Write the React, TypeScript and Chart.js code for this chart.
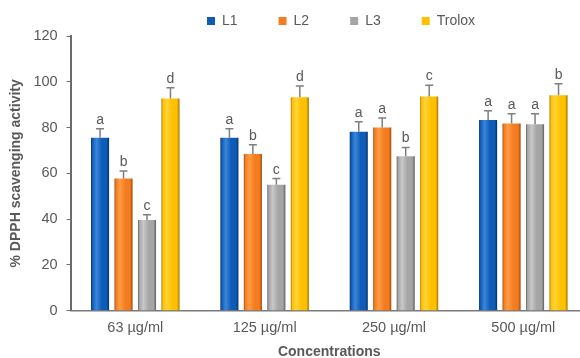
import React, { useEffect, useRef } from "react";
import { Chart, registerables } from "chart.js";

Chart.register(...registerables);

const CATEGORIES = ["63 µg/ml", "125 µg/ml", "250 µg/ml", "500 µg/ml"];
const SERIES_NAMES = ["L1", "L2", "L3", "Trolox"];
const L1 = [75.6, 75.6, 78.2, 83.3];
const L2 = [57.7, 68.4, 80.0, 81.8];
const L3 = [39.6, 55.0, 67.5, 81.4];
const TROLOX = [92.7, 93.2, 93.6, 94.1];
const L1_ERR = [3.9, 3.9, 4.3, 4.1];
const L2_ERR = [3.3, 4.1, 4.2, 4.2];
const L3_ERR = [2.3, 2.7, 3.8, 4.6];
const TROLOX_ERR = [4.7, 5.0, 4.9, 5.0];
const L1_LETTERS = ["a", "a", "a", "a"];
const L2_LETTERS = ["b", "b", "a", "a"];
const L3_LETTERS = ["c", "c", "b", "a"];
const TROLOX_LETTERS = ["d", "d", "c", "b"];
const Y_TICKS = [0, 20, 40, 60, 80, 100, 120];

const BASE = ["#0F5CB8", "#F47C20", "#A5A5A5", "#FFC000"];
const LIGHT = ["#3A86DA", "#FF9C45", "#C8C8C8", "#FFD338"];
const DARK = ["#062F63", "#9E4806", "#5E5E5E", "#A07200"];

const VALUES = [L1, L2, L3, TROLOX];
const ERRORS = [L1_ERR, L2_ERR, L3_ERR, TROLOX_ERR];
const LETTERS = [L1_LETTERS, L2_LETTERS, L3_LETTERS, TROLOX_LETTERS];

const FONT = "'Liberation Sans', Arial, Helvetica, sans-serif";
const TEXT = "#595959";

const barShading = {
  id: "barShading",
  beforeDatasetsDraw(chart: any) {
    const ctx = chart.ctx;
    chart.data.datasets.forEach((_ds: any, di: number) => {
      const meta = chart.getDatasetMeta(di);
      meta.data.forEach((el: any) => {
        const { x, width } = el.getProps(["x", "width"], true);
        const g = ctx.createLinearGradient(x - width / 2, 0, x + width / 2, 0);
        g.addColorStop(0, DARK[di]);
        g.addColorStop(0.08, BASE[di]);
        g.addColorStop(0.3, LIGHT[di]);
        g.addColorStop(0.6, BASE[di]);
        g.addColorStop(0.86, BASE[di]);
        g.addColorStop(1, DARK[di]);
        el.options = Object.assign({}, el.options, { backgroundColor: g });
      });
    });
  },
};

const errorLetters = {
  id: "errorLetters",
  afterDatasetsDraw(chart: any) {
    const ctx = chart.ctx;
    const yS = chart.scales.y;
    ctx.save();
    chart.data.datasets.forEach((ds: any, di: number) => {
      const meta = chart.getDatasetMeta(di);
      meta.data.forEach((el: any, i: number) => {
        const v = ds.data[i];
        const e = ERRORS[di][i];
        const yBar = yS.getPixelForValue(v);
        const yTop = yS.getPixelForValue(v + e);
        ctx.strokeStyle = "#7F7F7F";
        ctx.lineWidth = 1.5;
        ctx.beginPath();
        ctx.moveTo(el.x, yBar);
        ctx.lineTo(el.x, yTop);
        ctx.moveTo(el.x - 4, yTop);
        ctx.lineTo(el.x + 4, yTop);
        ctx.stroke();
        ctx.fillStyle = TEXT;
        ctx.font = `14px ${FONT}`;
        ctx.textAlign = "center";
        ctx.textBaseline = "alphabetic";
        ctx.fillText(LETTERS[di][i], el.x, yTop - 5);
      });
    });
    ctx.restore();
  },
};

const legendPlace = {
  id: "legendPlace",
  afterLayout(chart: any) {
    const lg = chart.legend;
    if (!lg) return;
    const pad = lg.options.labels.padding;
    const dx = 207 - (lg.left + pad);
    const dy = 14 - (lg.top + pad);
    lg.left += dx;
    lg.right += dx;
    lg.top += dy;
    lg.bottom = 40;
  },
};

export default function App() {
  const ref = useRef<HTMLCanvasElement>(null);
  useEffect(() => {
    if (!ref.current) return;
    const chart = new Chart(ref.current, {
      type: "bar",
      data: {
        labels: CATEGORIES,
        datasets: SERIES_NAMES.map((name, i) => ({
          label: name,
          data: VALUES[i],
          backgroundColor: BASE[i],
          borderWidth: 0,
          categoryPercentage: 0.726,
          barPercentage: 0.77,
        })),
      },
      options: {
        responsive: false,
        animation: false,
        devicePixelRatio: 1,
        layout: { padding: { left: 0, right: 2, top: 0, bottom: 0 } },
        plugins: {
          legend: {
            display: true,
            position: "top",
            align: "start",
            maxHeight: 36,
            labels: {
              boxWidth: 8,
              boxHeight: 8,
              padding: 41,
              color: TEXT,
              font: { family: FONT, size: 14 },
            },
          },
          tooltip: { enabled: false },
        },
        scales: {
          x: {
            grid: { display: false, drawTicks: false },
            border: { display: true, color: "#7A7A7A", width: 1.5 },
            ticks: {
              color: TEXT,
              font: { family: FONT, size: 14.5 },
              padding: 9,
              maxRotation: 0,
            },
            title: {
              display: true,
              text: "Concentrations",
              color: TEXT,
              font: { family: FONT, size: 14, weight: "bold", lineHeight: 0.8 },
              padding: { top: 0.7, bottom: 0 },
            },
          },
          y: {
            min: 0,
            max: 120,
            afterBuildTicks(scale: any) {
              scale.ticks = Y_TICKS.map((v) => ({ value: v }));
            },
            grid: {
              display: true,
              drawOnChartArea: false,
              drawTicks: true,
              tickLength: 4,
              color: "#6B6B6B",
              lineWidth: 1,
            },
            border: { display: true, color: "#6B6B6B", width: 2 },
            ticks: {
              color: TEXT,
              font: { family: FONT, size: 14.5 },
              padding: 9,
            },
            title: {
              display: true,
              text: "% DPPH scavenging activity",
              color: TEXT,
              font: { family: FONT, size: 14, weight: "bold" },
              padding: { top: 7.6, bottom: 0 },
            },
          },
        },
      },
      plugins: [barShading, errorLetters, legendPlace],
    });
    return () => chart.destroy();
  }, []);
  return (
    <div
      style={{
        position: "fixed",
        left: 0,
        top: 0,
        width: 580,
        height: 358,
        overflow: "hidden",
        background: "#fff",
      }}
    >
      <canvas ref={ref} width={590} height={358} style={{ width: 590, height: 358, display: "block" }} />
    </div>
  );
}
